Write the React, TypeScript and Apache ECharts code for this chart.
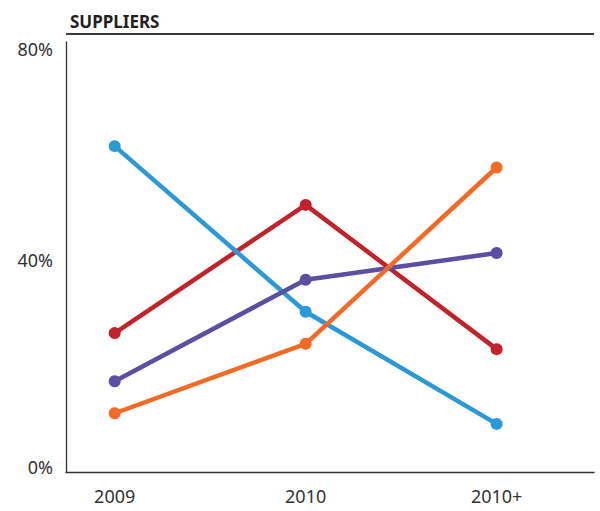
import React, { useEffect, useRef } from "react";
import * as echarts from "echarts";

const categories = ["2009", "2010", "2010+"];
const yTicks = [0, 40, 80];
const redValues = [26, 50, 23];
const blueValues = [61, 30, 9];
const purpleValues = [17, 36, 41];
const orangeValues = [11, 24, 57];
const titleText = "SUPPLIERS";

const seriesDefs = [
  { name: "red", values: redValues, color: "#c1222b" },
  { name: "blue", values: blueValues, color: "#2b98d8" },
  { name: "purple", values: purpleValues, color: "#5a4fa3" },
  { name: "orange", values: orangeValues, color: "#f36a24" },
];

export default function App() {
  const ref = useRef<HTMLDivElement>(null);
  useEffect(() => {
    if (!ref.current) return;
    const chart = echarts.init(ref.current, null, { renderer: "svg" });
    const font = "'Noto Sans', 'Open Sans', sans-serif";
    chart.setOption({
      animation: false,
      backgroundColor: "#ffffff",
      title: {
        text: titleText,
        left: 65,
        top: 8,
        textStyle: {
          fontFamily: font,
          fontWeight: "bold",
          fontSize: 17,
          color: "#231f20",
        },
      },
      graphic: [
        {
          type: "line",
          shape: { x1: 66, y1: 34, x2: 594, y2: 34 },
          style: { stroke: "#3a3a3a", lineWidth: 2 },
        },
      ],
      grid: { left: 66, right: 6, top: 42, bottom: 39, containLabel: false },
      xAxis: {
        type: "value",
        min: -0.255,
        max: 2.51,
        splitLine: { show: false },
        axisTick: { show: false },
        axisLine: { show: true, onZero: false, lineStyle: { color: "#333", width: 1.3 } },
        axisLabel: {
          customValues: categories.map((_, i) => i),
          formatter: (v: number) => categories[Math.round(v)] ?? "",
          fontFamily: font,
          fontSize: 18,
          color: "#333",
          margin: 15,
        },
      },
      yAxis: {
        type: "value",
        min: 0,
        max: 80.5,
        splitLine: { show: false },
        axisTick: { show: false },
        axisLine: { show: true, onZero: false, lineStyle: { color: "#333", width: 1.3 } },
        axisLabel: {
          customValues: yTicks,
          margin: 13,
          formatter: (v: number) =>
            v === 80 ? `{t|${v}%}` : v === 0 ? `{b|${v}%}` : `{m|${v}%}`,
          fontFamily: font,
          fontSize: 18,
          color: "#333",
          rich: {
            t: { fontFamily: font, fontSize: 18, color: "#333", padding: [9, 0, 0, 0] },
            m: { fontFamily: font, fontSize: 18, color: "#333", padding: [4, 0, 0, 0] },
            b: { fontFamily: font, fontSize: 18, color: "#333", padding: [0, 0, 10, 0] },
          },
        },
      },
      series: seriesDefs.map((s, k) => ({
        type: "line",
        name: s.name,
        data: s.values.map((v, i) => [i, v]),
        z: 2 + k,
        symbol: "circle",
        symbolSize: 12,
        lineStyle: { color: s.color, width: 4.5 },
        itemStyle: { color: s.color },
      })),
    });
    return () => chart.dispose();
  }, []);
  return (
    <div
      ref={ref}
      style={{ position: "fixed", left: 0, top: 0, width: 600, height: 511 }}
    />
  );
}
